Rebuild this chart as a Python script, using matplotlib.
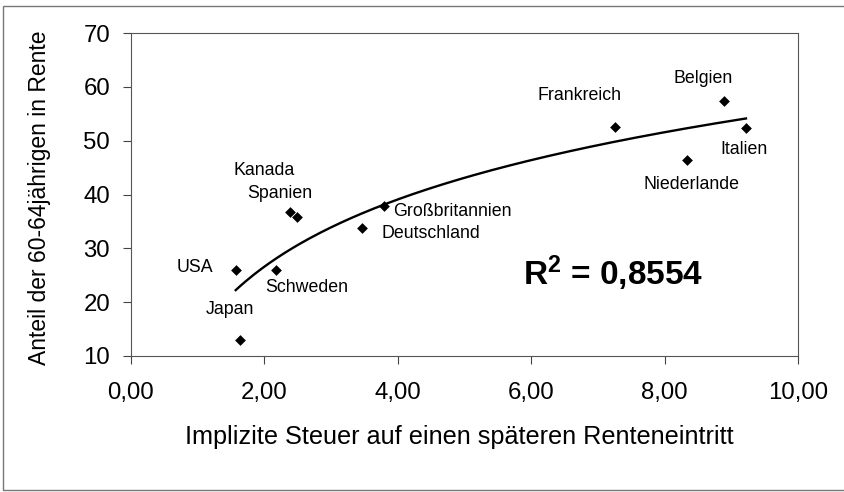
import numpy as np
import matplotlib
matplotlib.use("Agg")
import matplotlib.pyplot as plt
from matplotlib.patches import Rectangle

plt.rcParams['font.family'] = ['Liberation Sans', 'DejaVu Sans']
plt.rcParams['mathtext.fontset'] = 'custom'
plt.rcParams['mathtext.rm'] = 'Liberation Sans'
plt.rcParams['mathtext.bf'] = 'Liberation Sans:bold'

# Data
countries = ["USA", "Japan", "Schweden", "Kanada", "Spanien", "Deutschland",
             "Großbritannien", "Frankreich", "Belgien", "Italien", "Niederlande"]
implicit_tax = [1.57, 1.64, 2.17, 2.38, 2.49, 3.46, 3.79, 7.26, 8.89, 9.22, 8.33]
share_retired = [26.0, 13.0, 26.0, 36.7, 35.9, 33.7, 37.8, 52.5, 57.4, 52.4, 46.5]
x_ticks = [0, 2, 4, 6, 8, 10]
x_ticklabels = ["0,00", "2,00", "4,00", "6,00", "8,00", "10,00"]
y_ticks = [10, 20, 30, 40, 50, 60, 70]
r2_text = r"$\mathbf{R^{2}}$ = 0,8554"

# label offsets in pixels (dx, dy) and horizontal alignment
label_style = {
    "USA": (-22, 2, "right"),
    "Japan": (-10, 30, "center"),
    "Schweden": (31, -18, "center"),
    "Kanada": (-26, 42, "center"),
    "Spanien": (-17, 23, "center"),
    "Deutschland": (69, -5, "center"),
    "Großbritannien": (9, -5, "left"),
    "Frankreich": (-36, 32, "center"),
    "Belgien": (-21, 22, "center"),
    "Italien": (-2, -22, "center"),
    "Niederlande": (5, -25, "center"),
}

W, H = 844, 492
fig = plt.figure(figsize=(W / 100, H / 100), dpi=100)
ax = fig.add_axes([131 / W, 1 - 356 / H, (798 - 131) / W, (356 - 33) / H])

x = np.array(implicit_tax)
y = np.array(share_retired)
ax.scatter(x, y, marker='D', s=30, color='black', zorder=3, linewidths=0)

# logarithmic trendline
a, b = np.polyfit(np.log(x), y, 1)
xs = np.linspace(x.min(), x.max(), 200)
ax.plot(xs, a * np.log(xs) + b, color='black', lw=1.7, zorder=2)

for name, xi, yi in zip(countries, implicit_tax, share_retired):
    dx, dy, ha = label_style[name]
    ax.annotate(name, (xi, yi), xytext=(dx, dy), textcoords='offset pixels',
                ha=ha, va='center', fontsize=12.8, color='black')

ax.set_xlim(0, 10)
ax.set_ylim(10, 70)
ax.set_xticks(x_ticks)
ax.set_xticklabels(x_ticklabels)
ax.set_yticks(y_ticks)
ax.tick_params(axis='both', direction='out', length=6, width=0.8, color='#444',
               labelsize=17.3)
ax.tick_params(axis='x', pad=13)
ax.tick_params(axis='y', pad=9)
for sp in ax.spines.values():
    sp.set_color('#555')
    sp.set_linewidth(0.8)

ax.set_xlabel("Implizite Steuer auf einen späteren Renteneintritt", fontsize=18.2)
ax.xaxis.set_label_coords(0.4925, -0.215)
ax.set_ylabel("Anteil der 60-64jährigen in Rente", fontsize=16.5)
ax.yaxis.set_label_coords(-0.12, 0.49)

fig.text(613 / W, 1 - 273 / H, r2_text, fontsize=24, fontweight='bold',
         ha='center', va='center')

# outer frame (right edge cut off)
fig.patches.append(Rectangle((3 / W, 2 / H), 1.1, 1 - 8 / H,
                             transform=fig.transFigure, fill=False,
                             edgecolor='#777', lw=1.0))

fig.savefig("out.png", dpi=100)
